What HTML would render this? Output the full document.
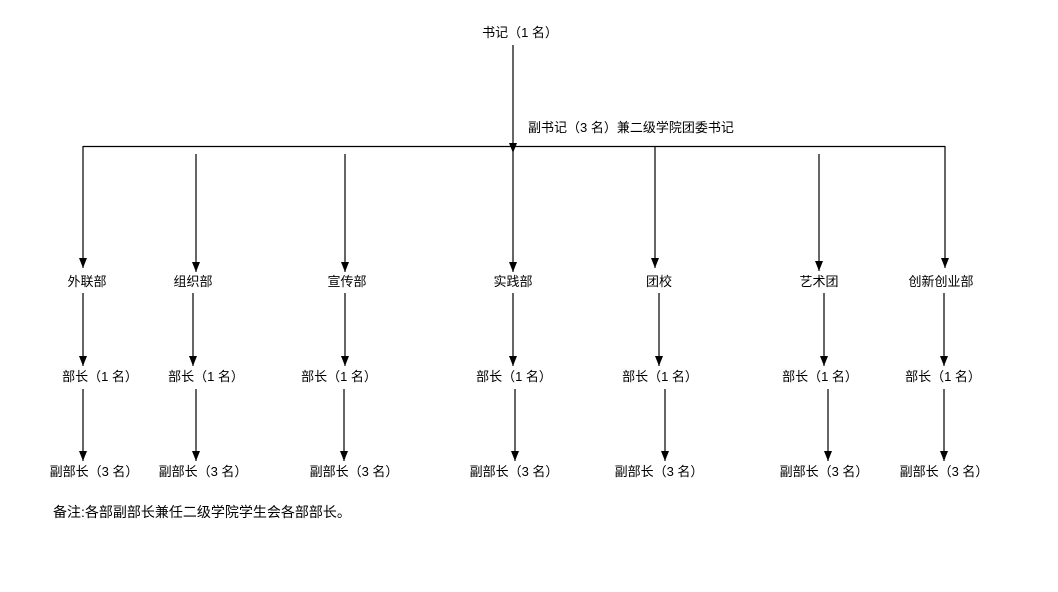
<!DOCTYPE html>
<html><head><meta charset="utf-8"><style>
html,body{margin:0;padding:0;background:#fff;}
svg text{font-family:"Liberation Sans","Noto Sans CJK SC",sans-serif;font-size:13px;fill:#000;}
</style></head><body>
<svg width="1058" height="587" viewBox="0 0 1058 587" xmlns="http://www.w3.org/2000/svg">
<defs>
<marker id="b" viewBox="0 0 10 8" markerWidth="10" markerHeight="8" refX="10" refY="4" orient="auto" markerUnits="userSpaceOnUse"><path d="M0,0 L10,4 L0,8 Z" fill="#000"/></marker></defs>
<g stroke="#000" stroke-width="1.2" fill="none">
<line x1="513" y1="45" x2="513" y2="153" marker-end="url(#b)"/>
<line x1="83" y1="146.5" x2="945" y2="146.5"/>
<line x1="83" y1="146" x2="83" y2="268" marker-end="url(#b)"/>
<line x1="196" y1="154" x2="196" y2="272" marker-end="url(#b)"/>
<line x1="345" y1="154" x2="345" y2="272" marker-end="url(#b)"/>
<line x1="513" y1="153" x2="513" y2="272" marker-end="url(#b)"/>
<line x1="655" y1="146" x2="655" y2="268" marker-end="url(#b)"/>
<line x1="819" y1="154" x2="819" y2="271" marker-end="url(#b)"/>
<line x1="945" y1="146" x2="945" y2="268" marker-end="url(#b)"/>
<line x1="83" y1="293" x2="83" y2="366" marker-end="url(#b)"/>
<line x1="193" y1="293" x2="193" y2="366" marker-end="url(#b)"/>
<line x1="345" y1="293" x2="345" y2="366" marker-end="url(#b)"/>
<line x1="513" y1="293" x2="513" y2="366" marker-end="url(#b)"/>
<line x1="659" y1="293" x2="659" y2="366" marker-end="url(#b)"/>
<line x1="824" y1="293" x2="824" y2="366" marker-end="url(#b)"/>
<line x1="944" y1="293" x2="944" y2="366" marker-end="url(#b)"/>
<line x1="83" y1="389" x2="83" y2="461" marker-end="url(#b)"/>
<line x1="196" y1="389" x2="196" y2="461" marker-end="url(#b)"/>
<line x1="344" y1="389" x2="344" y2="461" marker-end="url(#b)"/>
<line x1="515" y1="389" x2="515" y2="461" marker-end="url(#b)"/>
<line x1="665" y1="389" x2="665" y2="461" marker-end="url(#b)"/>
<line x1="828" y1="389" x2="828" y2="461" marker-end="url(#b)"/>
<line x1="944" y1="389" x2="944" y2="461" marker-end="url(#b)"/>
</g>
<g text-anchor="middle">
<text x="520" y="37">书记（1 名）</text>
<text x="87" y="286">外联部</text>
<text x="193" y="286">组织部</text>
<text x="347" y="286">宣传部</text>
<text x="513" y="286">实践部</text>
<text x="659" y="286">团校</text>
<text x="819" y="286">艺术团</text>
<text x="941" y="286">创新创业部</text>
<text x="100" y="381">部长（1 名）</text>
<text x="206" y="381">部长（1 名）</text>
<text x="339" y="381">部长（1 名）</text>
<text x="514" y="381">部长（1 名）</text>
<text x="660" y="381">部长（1 名）</text>
<text x="820" y="381">部长（1 名）</text>
<text x="943" y="381">部长（1 名）</text>
<text x="94" y="476">副部长（3 名）</text>
<text x="203" y="476">副部长（3 名）</text>
<text x="354" y="476">副部长（3 名）</text>
<text x="514" y="476">副部长（3 名）</text>
<text x="659" y="476">副部长（3 名）</text>
<text x="824" y="476">副部长（3 名）</text>
<text x="944" y="476">副部长（3 名）</text>
</g>
<text x="528" y="132">副书记（3 名）兼二级学院团委书记</text>
<text x="53" y="517" style="font-size:14px">备注:各部副部长兼任二级学院学生会各部部长。</text>
</svg>
</body></html>
